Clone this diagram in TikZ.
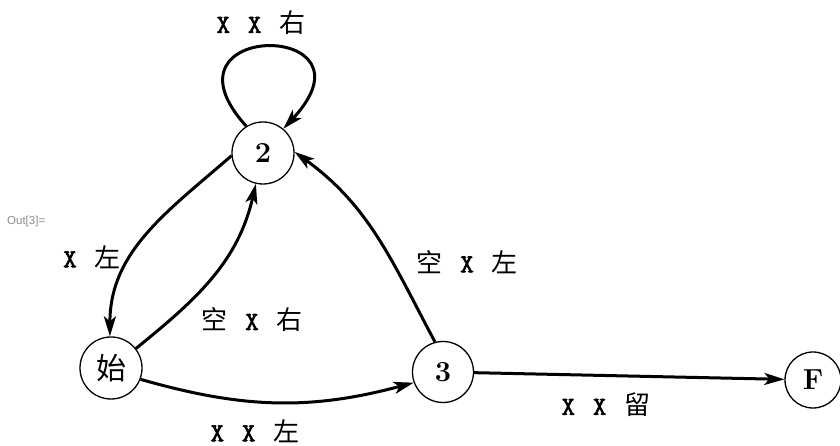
\documentclass[tikz,border=0pt]{standalone}
\usepackage{fontspec}
\newfontfamily\cjk{Noto Sans CJK SC}
\newfontfamily\outfont{Liberation Sans}
\newfontfamily\xtt{Latin Modern Mono}[FakeBold=2.5]
\usetikzlibrary{arrows.meta}
\newcommand\lx{{\xtt X}}
\newcommand\lc[1]{{\cjk #1}}
\newcommand\gp{\hspace{18pt}}
\begin{document}
\begin{tikzpicture}[x=1pt,y=1pt,
  state/.style={circle,draw,line width=1.3pt,minimum size=62pt,inner sep=0pt,
    font=\fontsize{29}{32}\selectfont\bfseries},
  edge/.style={line width=3pt,-{Stealth[length=20pt,width=12pt,inset=5pt]}},
  lab/.style={font=\fontsize{26}{30}\selectfont,inner sep=0pt}]
\useasboundingbox (0,0) rectangle (840,446);
% nodes
\node[state] (n2) at (263,293) {2};
\node[state,font=\fontsize{30}{32}\selectfont\cjk] (s) at (111,78) {始};
\node[state,minimum size=61pt] (n3) at (443,74) {3};
\node[state,minimum size=56pt] (F) at (813,66) {F};
% out label
\node[anchor=west,inner sep=0pt,text=black!45,font=\fontsize{11.5}{13}\selectfont\outfont] (out) at (7,224) {Out[3]=};
% edges
\draw[edge] (n2.122) .. controls (150,426) and (385,426) .. (n2.50);
\draw[edge] (n2.185) to[out=221,in=90] (s.92);
\draw[edge] (s.38) to[out=39,in=257] (n2.257);
\draw[edge] (s.-21) to[out=-16,in=195] (n3.200);
\draw[edge] (n3.105) to[out=118,in=324] (n2.2);
\draw[edge] (n3) -- (F);
% labels
\node[lab] (l1) at (261,423) {\lx\gp\lx\gp\lc{右}};
\node[lab] (l2) at (92,189) {\lx\gp\lc{左}};
\node[lab] (l3) at (252,126) {\lc{空}\gp\lx\gp\lc{右}};
\node[lab] (l4) at (467,184) {\lc{空}\gp\lx\gp\lc{左}};
\node[lab] (l5) at (606,41) {\lx\gp\lx\gp\lc{留}};
\node[lab] (l6) at (255,15) {\lx\gp\lx\gp\lc{左}};
\end{tikzpicture}
\end{document}
